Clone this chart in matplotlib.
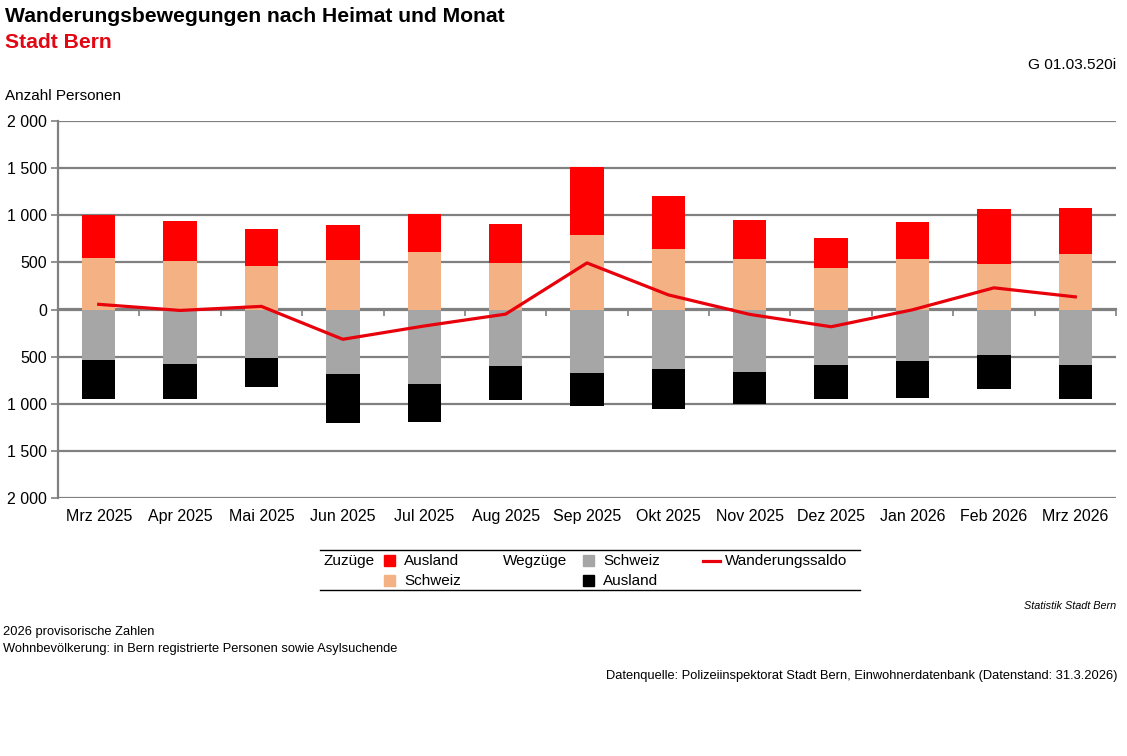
import numpy as np
import matplotlib
matplotlib.use('Agg')
import matplotlib.pyplot as plt
from matplotlib.patches import Rectangle
from matplotlib.lines import Line2D
from matplotlib.ticker import FuncFormatter

plt.rcParams['font.family'] = ['Liberation Sans', 'DejaVu Sans']

months = ["Mrz 2025", "Apr 2025", "Mai 2025", "Jun 2025", "Jul 2025", "Aug 2025",
          "Sep 2025", "Okt 2025", "Nov 2025", "Dez 2025", "Jan 2026", "Feb 2026", "Mrz 2026"]
# Zuzuege (positiv) und Wegzuege (als positive Zahlen, nach unten gezeichnet)
zu_schweiz = [547, 515, 462, 523, 610, 497, 787, 639, 533, 438, 533, 480, 589]
zu_ausland = [453, 420, 389, 370, 406, 413, 726, 567, 413, 324, 398, 589, 490]
weg_schweiz = [535, 578, 514, 683, 793, 603, 677, 635, 667, 592, 550, 487, 592]
weg_ausland = [410, 367, 304, 526, 398, 356, 342, 416, 331, 353, 384, 352, 353]

zs = np.array(zu_schweiz)
za = np.array(zu_ausland)
ws = np.array(weg_schweiz)
wa = np.array(weg_ausland)
saldo = zs + za - ws - wa

c_red = '#FF0000'
c_salmon = '#F4B183'
c_gray = '#A6A6A6'
c_black = '#000000'
c_grid = '#808080'

W, H = 1127, 756
fig = plt.figure(figsize=(W / 100, H / 100), dpi=100)
ax = fig.add_axes([58 / W, 1 - 498 / H, (1116 - 58) / W, (498 - 121) / H])

x = np.arange(len(months))
bw = 0.41
ax.bar(x, zs, bw, color=c_salmon, zorder=2)
ax.bar(x, za, bw, bottom=zs, color=c_red, zorder=2)
ax.bar(x, -ws, bw, color=c_gray, zorder=2)
ax.bar(x, -wa, bw, bottom=-ws, color=c_black, zorder=2)
ax.plot(x, saldo, color='#E8000B', lw=2.3, zorder=4)

ax.set_xlim(-0.5, len(months) - 0.5)
ax.set_ylim(-2000, 2000)
ax.set_yticks(np.arange(-2000, 2001, 500))
ax.yaxis.set_major_formatter(FuncFormatter(lambda v, p: f"{abs(int(v)):,}".replace(',', ' ')))
ax.yaxis.grid(True, color=c_grid, lw=1.6, zorder=1)
ax.set_axisbelow(True)
ax.set_xticks(x)
ax.set_xticklabels(months)
ax.tick_params(axis='x', length=0, pad=8, labelsize=11.5)
ax.tick_params(axis='y', length=5, width=1.2, color=c_grid, labelsize=11.5, pad=3)
for s in ['top', 'right', 'bottom']:
    ax.spines[s].set_visible(False)
ax.spines['left'].set_color(c_grid)
ax.spines['left'].set_linewidth(1.6)

# Trennstriche zwischen den Monaten auf der Nulllinie
sec = ax.secondary_xaxis(0.5)
sec.set_xticks(np.arange(-0.5, len(months)))
sec.set_xticklabels([])
sec.tick_params(length=5, width=1.2, color=c_grid, direction='in')
for s in sec.spines.values():
    s.set_color(c_grid)
    s.set_linewidth(1.6)


def fx(px):
    return px / W


def fy(py):
    return 1 - py / H


fig.text(fx(5), fy(16), "Wanderungsbewegungen nach Heimat und Monat", fontsize=15.2,
         fontweight='bold', va='center', ha='left')
fig.text(fx(5), fy(43), "Stadt Bern", fontsize=15.2, fontweight='bold', color='#E30613',
         va='center', ha='left')
fig.text(fx(1116), fy(65), "G 01.03.520i", fontsize=11.1, va='center', ha='right')
fig.text(fx(5), fy(96), "Anzahl Personen", fontsize=11, va='center', ha='left')

# Legende
fig.add_artist(Line2D([fx(320), fx(860)], [fy(550), fy(550)], color='black', lw=1))
fig.add_artist(Line2D([fx(320), fx(860)], [fy(590), fy(590)], color='black', lw=1))
sq = 11
legend_items = [
    (384, 561, c_red, "Ausland"),
    (384, 581, c_salmon, "Schweiz"),
    (583, 561, c_gray, "Schweiz"),
    (583, 581, c_black, "Ausland"),
]
for lx, ly, col, lab in legend_items:
    fig.add_artist(Rectangle((fx(lx), fy(ly + sq / 2 - 1)), sq / W, sq / H, color=col,
                             transform=fig.transFigure))
    fig.text(fx(lx + 20), fy(ly), lab, fontsize=11, va='center', ha='left')
fig.text(fx(323), fy(561), "Zuzüge", fontsize=11, va='center', ha='left')
fig.text(fx(503), fy(561), "Wegzüge", fontsize=11, va='center', ha='left')
fig.add_artist(Line2D([fx(703), fx(720)], [fy(561), fy(561)], color='#E8000B', lw=2.3))
fig.text(fx(725), fy(561), "Wanderungssaldo", fontsize=11, va='center', ha='left')

fig.text(fx(1116), fy(606), "Statistik Stadt Bern", fontsize=7.8, style='italic',
         va='center', ha='right')
fig.text(fx(3), fy(632), "2026 provisorische Zahlen", fontsize=9.3,
         va='center', ha='left')
fig.text(fx(3), fy(649), "Wohnbevölkerung: in Bern registrierte Personen sowie Asylsuchende",
         fontsize=9.3, va='center', ha='left')
fig.text(fx(1118), fy(676),
         "Datenquelle: Polizeiinspektorat Stadt Bern, Einwohnerdatenbank (Datenstand: 31.3.2026)",
         fontsize=9.3, va='center', ha='right')

fig.savefig('out.png', dpi=100)
